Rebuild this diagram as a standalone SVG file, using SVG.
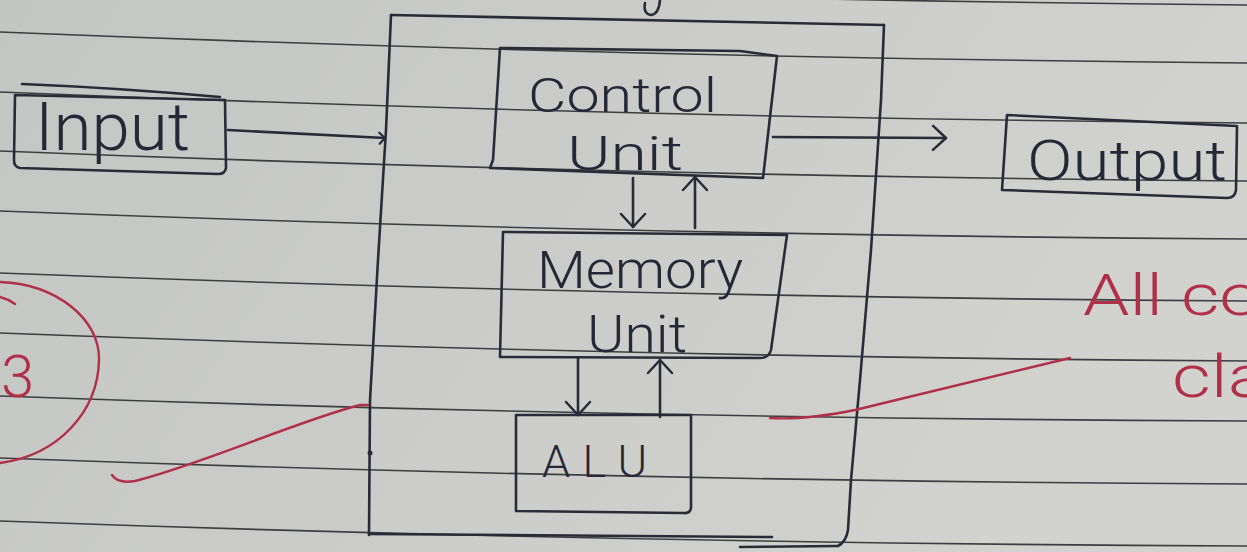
<svg xmlns="http://www.w3.org/2000/svg" width="1247" height="552" viewBox="0 0 1247 552">
<defs>
<linearGradient id="paper" x1="0" y1="0" x2="1" y2="0.3">
<stop offset="0" stop-color="#c4c6c3"/>
<stop offset="0.5" stop-color="#cbccc9"/>
<stop offset="1" stop-color="#d2d3cf"/>
</linearGradient>
<marker id="head" viewBox="-15 -15 17 30" refX="0" refY="0" markerWidth="17" markerHeight="30" markerUnits="userSpaceOnUse" orient="auto">
<path d="M-13,-12 L0,0 L-13,12" fill="none" stroke="#2a2b38" stroke-width="2.5" stroke-linecap="round" stroke-linejoin="round"/>
</marker>
<marker id="headS" viewBox="-8 -8 10 16" refX="0" refY="0" markerWidth="10" markerHeight="16" markerUnits="userSpaceOnUse" orient="auto">
<path d="M-6,-5 L0,0 L-5,6" fill="none" stroke="#2a2b38" stroke-width="2.2" stroke-linecap="round" stroke-linejoin="round"/>
</marker>
</defs>
<style>
.rule{fill:none;stroke:#3c3e42;stroke-width:1.6}
.ink{fill:none;stroke:#2a2b38;stroke-width:2.6;stroke-linecap:round;stroke-linejoin:round}
.red{fill:none;stroke:#b03048;stroke-width:2.4;stroke-linecap:round;stroke-linejoin:round}
.lbl{font-family:Roboto,"Liberation Sans",sans-serif;font-weight:300;fill:#262838}
.rtxt{font-family:Roboto,"Liberation Sans",sans-serif;font-weight:300;fill:#b03048}
</style>
<rect x="0" y="0" width="1247" height="552" fill="url(#paper)"/>
<g id="ruled-lines">
<path class="rule" d="M0,-26 Q623.5,-0.5 1247,5"/>
<path class="rule" d="M0,32 Q623.5,57.5 1247,63"/>
<path class="rule" d="M0,92 Q623.5,117.5 1247,123"/>
<path class="rule" d="M0,151 Q623.5,176 1247,181"/>
<path class="rule" d="M0,211 Q623.5,235 1247,239"/>
<path class="rule" d="M0,273 Q623.5,297 1247,301"/>
<path class="rule" d="M0,333 Q623.5,357 1247,361"/>
<path class="rule" d="M0,396 Q623.5,418.5 1247,421"/>
<path class="rule" d="M0,458 Q623.5,481 1247,484"/>
<path class="rule" d="M0,521 Q623.5,543.5 1247,546"/>
</g>
<path class="ink" d="M660,0 Q659,14 651,15 Q643,14 645,3"/>
<g id="cpu">
<path class="ink" d="M391,15 L884,25"/>
<path class="ink" d="M884,25 L881,100 L871,250 L860,380 L851,480 L848,530 Q846,542 838,546"/>
<path class="ink" d="M391,15 L386,130 L378,260 L370,400 L369,535"/>
<path class="ink" d="M369,534 L772,537"/>
<path class="ink" d="M740,547 L838,546"/>
<circle cx="370" cy="453" r="2.5" fill="#2a2b38"/>
</g>
<g id="input">
<path class="ink" d="M22,84 Q120,88 220,97"/>
<path class="ink" d="M15,95 L225,100 L226,168 Q225,174 218,174 L20,168 Q14,167 14,160 Z"/>
<text class="lbl" x="35" y="150" font-size="66" textLength="155" lengthAdjust="spacingAndGlyphs">Input</text>
</g>
<g id="control-unit">
<path class="ink" d="M500,48 L740,51 L777,56 L763,178 L490,168 L493,160 Z"/>
<text class="lbl" x="528" y="112" font-size="48" textLength="189" lengthAdjust="spacingAndGlyphs">Control</text>
<text class="lbl" x="567" y="170" font-size="49" textLength="116" lengthAdjust="spacingAndGlyphs">Unit</text>
</g>
<g id="memory-unit">
<path class="ink" d="M503,232 L787,235 L771,350 Q769,358 760,358 L500,357 Z"/>
<text class="lbl" x="537" y="288" font-size="51" textLength="206" lengthAdjust="spacingAndGlyphs">Memory</text>
<text class="lbl" x="587" y="352" font-size="52" textLength="100" lengthAdjust="spacingAndGlyphs">Unit</text>
</g>
<g id="alu">
<path class="ink" d="M516,415 L691,415 L691,508 Q690,514 683,513 L516,511 Z"/>
<text class="lbl" x="542" y="477" font-size="45" textLength="105" lengthAdjust="spacing">ALU</text>
</g>
<g id="output">
<path class="ink" d="M1007,115 L1237,126 L1236,190 Q1235,198 1227,198 L1002,190 Z"/>
<text class="lbl" x="1027" y="180" font-size="56" textLength="200" lengthAdjust="spacingAndGlyphs">Output</text>
</g>
<g id="annotations">
<path class="red" d="M0,282 C55,284 100,318 99,360 C98,410 60,455 0,463"/>
<path class="red" d="M0,297 Q8,299 15,304"/>
<text class="rtxt" x="1" y="397" font-size="60">3</text>
<text class="rtxt" x="1083" y="315" font-size="57" textLength="178" lengthAdjust="spacingAndGlyphs">All co</text>
<text class="rtxt" x="1172" y="397" font-size="60" textLength="96" lengthAdjust="spacingAndGlyphs">cla</text>
</g>
<g id="connectors">
<path class="ink" d="M228,130 L385,138" marker-end="url(#headS)"/>
<path class="ink" d="M773,137 L946,138" marker-end="url(#head)"/>
<path class="ink" d="M633,178 L633,227" marker-end="url(#head)"/>
<path class="ink" d="M695,228 L695,177" marker-end="url(#head)"/>
<path class="ink" d="M578,358 L578,415" marker-end="url(#head)"/>
<path class="ink" d="M660,417 L660,360" marker-end="url(#head)"/>
<path class="red" d="M112,475 Q118,484 135,481 C200,465 300,420 360,405 L368,405"/>
<path class="red" d="M770,418 C800,420 830,415 855,410 L1070,358"/>
</g>
</svg>
